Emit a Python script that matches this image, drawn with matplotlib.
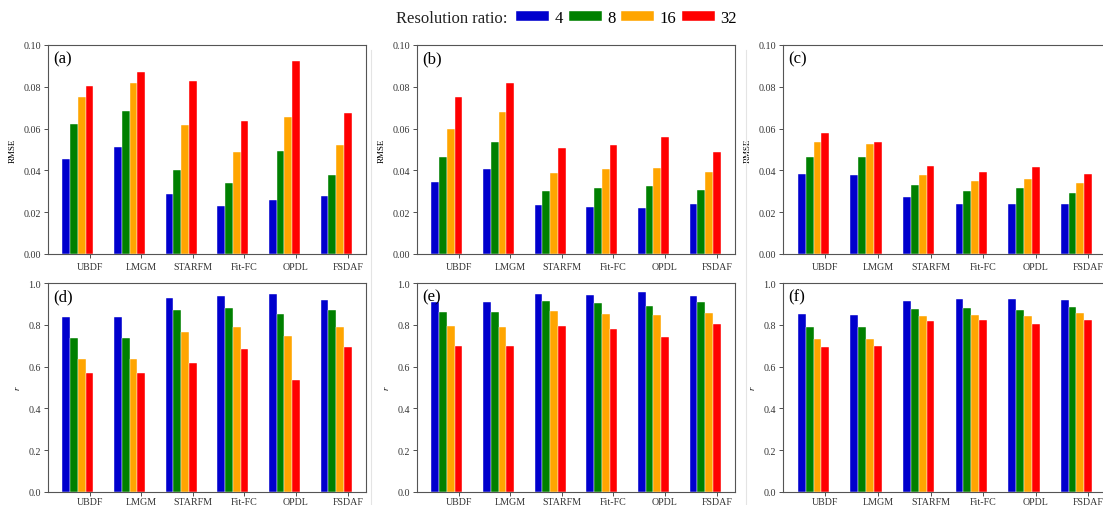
import numpy as np
import matplotlib
matplotlib.use("Agg")
import matplotlib.pyplot as plt
from matplotlib.patches import Patch
from matplotlib.ticker import FormatStrFormatter

plt.rcParams['font.family'] = ['Liberation Serif', 'DejaVu Serif']

methods = ["UBDF", "LMGM", "STARFM", "Fit-FC", "OPDL", "FSDAF"]
ratios = ["4", "8", "16", "32"]
colors = ["#0000CD", "#008000", "#FFA500", "#FF0000"]

# RMSE per method, one row per resolution ratio (4, 8, 16, 32)
rmse_a = [
    [0.0455, 0.0514, 0.0289, 0.0231, 0.0258, 0.0276],
    [0.0620, 0.0686, 0.0400, 0.0338, 0.0494, 0.0378],
    [0.0753, 0.0817, 0.0619, 0.0488, 0.0655, 0.0523],
    [0.0805, 0.0869, 0.0828, 0.0635, 0.0925, 0.0676],
]
rmse_b = [
    [0.0346, 0.0405, 0.0233, 0.0223, 0.0218, 0.0238],
    [0.0466, 0.0536, 0.0303, 0.0316, 0.0327, 0.0305],
    [0.0600, 0.0679, 0.0389, 0.0405, 0.0413, 0.0392],
    [0.0750, 0.0817, 0.0507, 0.0522, 0.0561, 0.0490],
]
rmse_c = [
    [0.0381, 0.0376, 0.0272, 0.0238, 0.0238, 0.0240],
    [0.0464, 0.0464, 0.0330, 0.0301, 0.0315, 0.0291],
    [0.0534, 0.0528, 0.0379, 0.0350, 0.0360, 0.0338],
    [0.0579, 0.0538, 0.0422, 0.0392, 0.0414, 0.0381],
]
# Correlation coefficient r
r_d = [
    [0.837, 0.837, 0.926, 0.938, 0.946, 0.920],
    [0.736, 0.736, 0.872, 0.882, 0.851, 0.870],
    [0.635, 0.635, 0.765, 0.789, 0.746, 0.789],
    [0.568, 0.571, 0.619, 0.685, 0.538, 0.696],
]
r_e = [
    [0.909, 0.909, 0.949, 0.944, 0.955, 0.939],
    [0.859, 0.859, 0.914, 0.902, 0.891, 0.909],
    [0.792, 0.790, 0.866, 0.850, 0.846, 0.858],
    [0.699, 0.699, 0.794, 0.779, 0.741, 0.803],
]
r_f = [
    [0.850, 0.846, 0.914, 0.922, 0.923, 0.918],
    [0.790, 0.789, 0.875, 0.880, 0.869, 0.885],
    [0.734, 0.731, 0.843, 0.846, 0.840, 0.856],
    [0.694, 0.699, 0.818, 0.822, 0.803, 0.821],
]

panels = [
    ("(a)", rmse_a, "RMSE", 0.10, 0.02, "%.2f"),
    ("(b)", rmse_b, "RMSE", 0.10, 0.02, "%.2f"),
    ("(c)", rmse_c, "RMSE", 0.10, 0.02, "%.2f"),
    ("(d)", r_d, "r", 1.0, 0.2, "%.1f"),
    ("(e)", r_e, "r", 1.0, 0.2, "%.1f"),
    ("(f)", r_f, "r", 1.0, 0.2, "%.1f"),
]

W, H = 1103, 506
fig = plt.figure(figsize=(W / 100, H / 100), dpi=100)

lefts = [48, 417, 783]
tops = [46, 284]
ax_w, ax_h = 318, 209

bar_w = 0.15
x = np.arange(len(methods))
spine_col = "#555555"

for k, (tag, data, ylab, ymax, ystep, fmt) in enumerate(panels):
    row, col = divmod(k, 3)
    l = lefts[col]
    t = tops[row]
    w = ax_w + (6 if col == 2 else 0)
    ax = fig.add_axes([l / W, (H - t - ax_h) / H, w / W, ax_h / H])
    for i in range(len(ratios)):
        ax.bar(x - (3 - i) * bar_w, data[i], width=bar_w, color=colors[i],
               edgecolor="white", linewidth=0.3)
    ax.set_ylim(0, ymax)
    ax.set_yticks(np.arange(0, ymax + ystep / 2, ystep))
    ax.yaxis.set_major_formatter(FormatStrFormatter(fmt))
    ax.set_xticks(x)
    ax.set_xticklabels(methods)
    ax.tick_params(length=3, width=0.6, colors="#333333", labelcolor="#333333")
    ax.tick_params(axis="x", labelsize=7.2, pad=2.5 if row == 0 else 0.5)
    ax.tick_params(axis="y", labelsize=7.2, pad=2)
    for s in ax.spines.values():
        s.set_color(spine_col)
        s.set_linewidth(0.8)
    if ylab == "r":
        ax.set_ylabel("r", fontsize=6.5, style="italic", labelpad=5)
    else:
        ax.set_ylabel(ylab, fontsize=6.5, labelpad=5)
    ax.text(0.015, 0.975, tag, transform=ax.transAxes, ha="left", va="top",
            fontsize=12)

# thin separators between the columns
for xs in (371, 746):
    fig.add_artist(plt.Line2D([xs / W, xs / W], [0.0, 0.9], color="#e4e4e4",
                              linewidth=0.8))

# legend: title on the left, entries in one row
fig.text(507 / W, 1 - 19 / H, "Resolution ratio:", ha="right", va="center",
         fontsize=12, color="#222222")
handles = [Patch(facecolor=c, edgecolor="white", linewidth=0.3) for c in colors]
fig.legend(handles, ratios, loc="center left", bbox_to_anchor=(516 / W, 1 - 19 / H),
           ncol=4, frameon=False, fontsize=12, handlelength=2.0,
           handleheight=0.6, handletextpad=0.3, columnspacing=0.35,
           borderpad=0.0, borderaxespad=0.0)

fig.savefig("out.png", dpi=100)
